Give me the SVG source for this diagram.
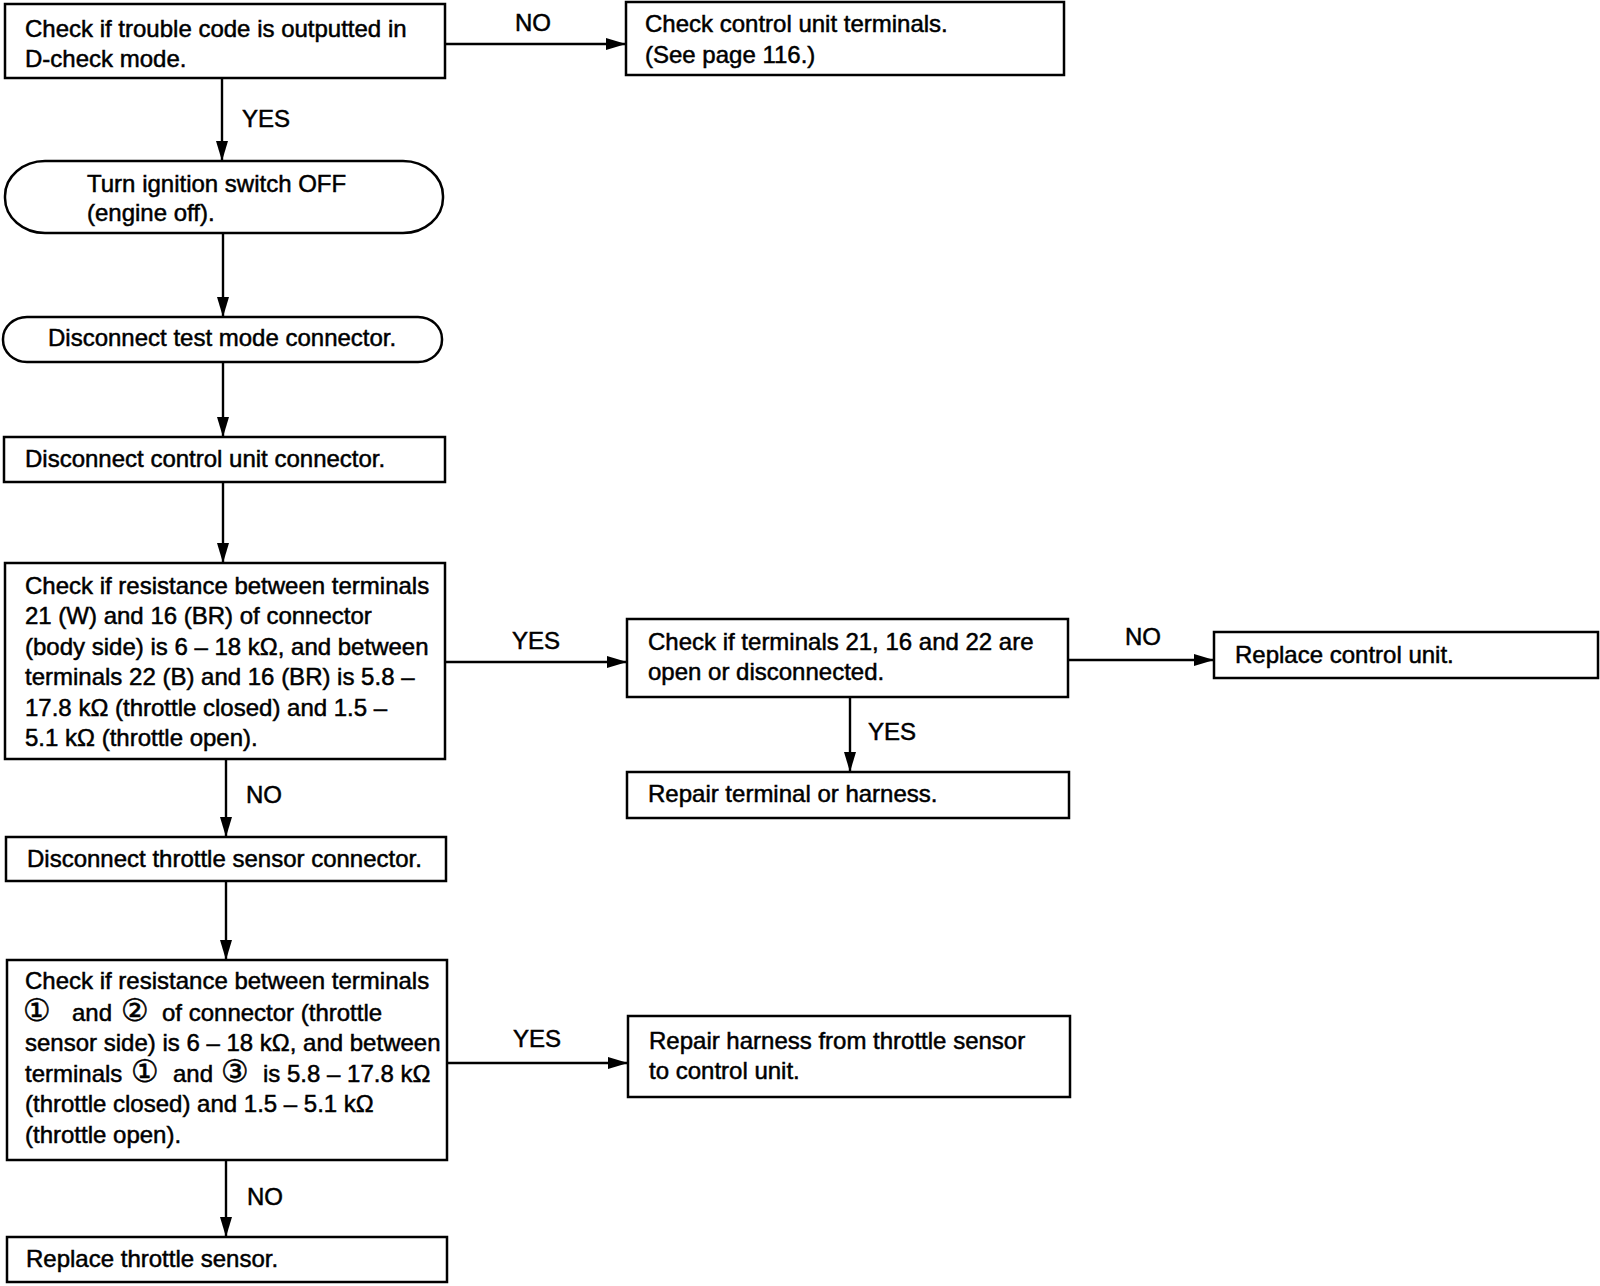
<svg xmlns="http://www.w3.org/2000/svg" width="1600" height="1286" viewBox="0 0 1600 1286">
<style>
.box{fill:#fff;stroke:#000;stroke-width:2.5}
.t{font-family:"Liberation Sans","DejaVu Sans","Noto Sans CJK JP",sans-serif;font-size:24px;fill:#000;stroke:#000;stroke-width:0.5}
.c{font-family:"DejaVu Sans","Noto Sans CJK JP",sans-serif;font-size:31px}
.ln{fill:none;stroke:#000;stroke-width:2.4;marker-end:url(#ah)}
</style>
<defs>
<marker id="ah" markerUnits="userSpaceOnUse" markerWidth="20" markerHeight="12" refX="20" refY="6" orient="auto">
<path d="M0,0 L20,6 L0,12 z" fill="#000"/>
</marker>
</defs>
<rect width="1600" height="1286" fill="#fff"/>
<g id="connectors">
<path class="ln" d="M445,44 H626"/>
<path class="ln" d="M222,78 V161"/>
<path class="ln" d="M223,233 V317"/>
<path class="ln" d="M223,362 V437"/>
<path class="ln" d="M223,482 V563"/>
<path class="ln" d="M445,662 H627"/>
<path class="ln" d="M1068,660 H1214"/>
<path class="ln" d="M850,697 V772"/>
<path class="ln" d="M226,759 V837"/>
<path class="ln" d="M226,881 V960"/>
<path class="ln" d="M447,1063 H628"/>
<path class="ln" d="M226,1160 V1237"/>
<text class="t" x="515" y="31">NO</text>
<text class="t" x="242" y="127">YES</text>
<text class="t" x="512" y="649">YES</text>
<text class="t" x="1125" y="645">NO</text>
<text class="t" x="868" y="740">YES</text>
<text class="t" x="246" y="803">NO</text>
<text class="t" x="513" y="1047">YES</text>
<text class="t" x="247" y="1205">NO</text>
</g>
<g id="n1">
<rect class="box" x="5" y="4" width="440" height="74"/>
<text class="t" x="25" y="37">Check if trouble code is outputted in</text>
<text class="t" x="25" y="67">D-check mode.</text>
</g>
<g id="n2">
<rect class="box" x="626" y="2" width="438" height="73"/>
<text class="t" x="645" y="32">Check control unit terminals.</text>
<text class="t" x="645" y="63">(See page 116.)</text>
</g>
<g id="n3">
<rect class="box" x="5" y="161" width="438" height="72" rx="40" ry="35"/>
<text class="t" x="87" y="192">Turn ignition switch OFF</text>
<text class="t" x="87" y="221">(engine off).</text>
</g>
<g id="n4">
<rect class="box" x="3" y="317" width="439" height="45" rx="24" ry="22"/>
<text class="t" x="48" y="346">Disconnect test mode connector.</text>
</g>
<g id="n5">
<rect class="box" x="4" y="437" width="441" height="45"/>
<text class="t" x="25" y="467">Disconnect control unit connector.</text>
</g>
<g id="n6">
<rect class="box" x="5" y="563" width="440" height="196"/>
<text class="t" x="25" y="594">Check if resistance between terminals</text>
<text class="t" x="25" y="624">21 (W) and 16 (BR) of connector</text>
<text class="t" x="25" y="655">(body side) is 6 – 18 kΩ, and between</text>
<text class="t" x="25" y="685">terminals 22 (B) and 16 (BR) is 5.8 –</text>
<text class="t" x="25" y="716">17.8 kΩ (throttle closed) and 1.5 –</text>
<text class="t" x="25" y="746">5.1 kΩ (throttle open).</text>
</g>
<g id="n7">
<rect class="box" x="627" y="619" width="441" height="78"/>
<text class="t" x="648" y="650">Check if terminals 21, 16 and 22 are</text>
<text class="t" x="648" y="680">open or disconnected.</text>
</g>
<g id="n8">
<rect class="box" x="1214" y="632" width="384" height="46"/>
<text class="t" x="1235" y="663">Replace control unit.</text>
</g>
<g id="n9">
<rect class="box" x="627" y="772" width="442" height="46"/>
<text class="t" x="648" y="802">Repair terminal or harness.</text>
</g>
<g id="n10">
<rect class="box" x="6" y="837" width="440" height="44"/>
<text class="t" x="27" y="867">Disconnect throttle sensor connector.</text>
</g>
<g id="n11">
<rect class="box" x="7" y="960" width="440" height="200"/>
<text class="t" x="25" y="989">Check if resistance between terminals</text>
<text class="t" y="1021"><tspan class="c" x="23">①</tspan><tspan x="72">and</tspan><tspan class="c" x="121">②</tspan><tspan x="162">of connector (throttle</tspan></text>
<text class="t" x="25" y="1051">sensor side) is 6 – 18 kΩ, and between</text>
<text class="t" y="1082"><tspan x="25">terminals</tspan><tspan class="c" x="131">①</tspan><tspan x="173">and</tspan><tspan class="c" x="221">③</tspan><tspan x="263">is 5.8 – 17.8 kΩ</tspan></text>
<text class="t" x="25" y="1112">(throttle closed) and 1.5 – 5.1 kΩ</text>
<text class="t" x="25" y="1143">(throttle open).</text>
</g>
<g id="n12">
<rect class="box" x="628" y="1016" width="442" height="81"/>
<text class="t" x="649" y="1049">Repair harness from throttle sensor</text>
<text class="t" x="649" y="1079">to control unit.</text>
</g>
<g id="n13">
<rect class="box" x="7" y="1237" width="440" height="45"/>
<text class="t" x="26" y="1267">Replace throttle sensor.</text>
</g>
</svg>
